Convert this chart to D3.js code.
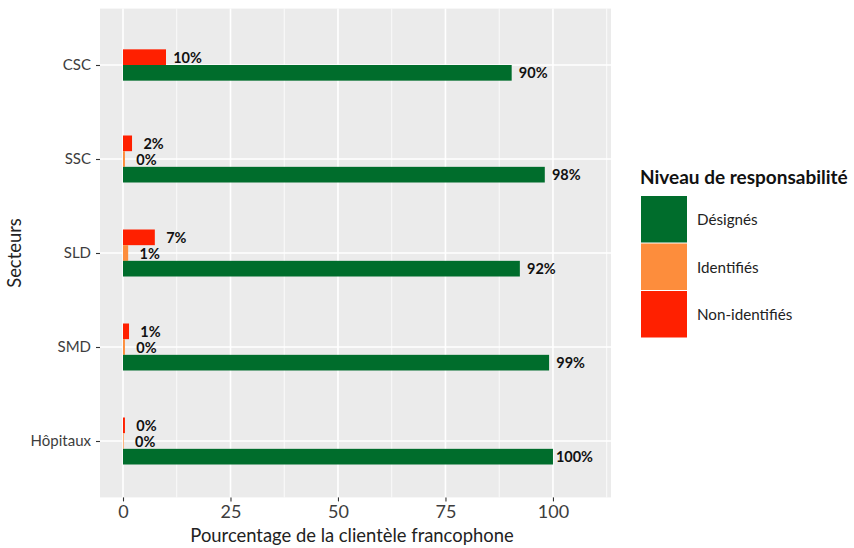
<!DOCTYPE html>
<html><head><meta charset="utf-8">
<script src="https://cdn.jsdelivr.net/npm/d3@7"></script>
<style>body{margin:0;background:#fff}svg{display:block}</style>
</head><body>
<svg id="chart" width="854" height="548"></svg>
<script>
// ---- data ----
const categories = ["CSC", "SSC", "SLD", "SMD", "Hôpitaux"];
const seriesNames = ["Désignés", "Identifiés", "Non-identifiés"];
const seriesColors = ["#006d2c", "#fd8d3c", "#ff2000"];
const designes = [90.4, 98.1, 92.3, 99.1, 100];
const identifies = [null, 0.45, 1.2, 0.45, 0.15];
const nonIdentifies = [10, 2.1, 7.4, 1.4, 0.45];
const xTicks = [0, 25, 50, 75, 100];
const xMinor = [12.5, 37.5, 62.5, 87.5, 112.5];
const xTitle = "Pourcentage de la clientèle francophone";
const yTitle = "Secteurs";
const legendTitle = "Niveau de responsabilité";

const FONT = "Lato, 'Open Sans', sans-serif";
const svg = d3.select("#chart");

const panel = {x0: 100, x1: 611, y0: 8.6, y1: 497.4};
const x = d3.scaleLinear().domain([-5.35, 113.5]).range([panel.x0, panel.x1]);
const y = d3.scalePoint().domain(categories).range([panel.y0, panel.y1]).padding(0.6);
const groupH = y.step() * 0.5;
const barH = groupH / 3;

// panel background
svg.append("rect").attr("x", panel.x0).attr("y", panel.y0)
  .attr("width", panel.x1 - panel.x0).attr("height", panel.y1 - panel.y0).attr("fill", "#ebebeb");

// grid
svg.append("g").selectAll("line").data(xMinor).join("line")
  .attr("x1", d => x(d)).attr("x2", d => x(d)).attr("y1", panel.y0).attr("y2", panel.y1)
  .attr("stroke", "#fff").attr("stroke-width", 0.8);
svg.append("g").selectAll("line").data(xTicks).join("line")
  .attr("x1", d => x(d)).attr("x2", d => x(d)).attr("y1", panel.y0).attr("y2", panel.y1)
  .attr("stroke", "#fff").attr("stroke-width", 1.6);
svg.append("g").selectAll("line").data(categories).join("line")
  .attr("y1", d => y(d)).attr("y2", d => y(d)).attr("x1", panel.x0).attr("x2", panel.x1)
  .attr("stroke", "#fff").attr("stroke-width", 1.6);

// build rows: order top->bottom within a group: Non-identifiés, Identifiés, Désignés
const rows = [];
categories.forEach((c, i) => {
  const present = [];
  if (nonIdentifies[i] != null) present.push({s: 2, v: nonIdentifies[i]});
  if (identifies[i] != null) present.push({s: 1, v: identifies[i]});
  if (designes[i] != null) present.push({s: 0, v: designes[i]});
  const sub = d3.scaleBand().domain(present.map(p => p.s))
    .range([y(c) - barH * present.length / 2, y(c) + barH * present.length / 2]);
  present.forEach(p => rows.push({cat: c, s: p.s, v: p.v, y0: sub(p.s), h: sub.bandwidth()}));
});

svg.append("g").selectAll("rect").data(rows).join("rect")
  .attr("x", x(0)).attr("y", d => d.y0)
  .attr("width", d => x(d.v) - x(0)).attr("height", d => d.h)
  .attr("fill", d => seriesColors[d.s]);

svg.append("g").selectAll("text").data(rows).join("text")
  .attr("x", d => x(d.v + 5)).attr("y", d => d.y0 + d.h / 2)
  .attr("text-anchor", "middle").attr("dominant-baseline", "central")
  .attr("font-family", FONT).attr("font-weight", "bold").attr("font-size", 14.5)
  .attr("fill", "#111")
  .text(d => Math.round(d.v) + "%");

// axes
const yAxis = svg.append("g").attr("transform", `translate(${panel.x0},0)`)
  .call(d3.axisLeft(y).tickSize(4).tickPadding(5));
yAxis.select(".domain").remove();
yAxis.selectAll("line").attr("stroke", "#333").attr("stroke-width", 1.1);
yAxis.selectAll("text").attr("font-family", FONT).attr("font-size", 15).attr("fill", "#3d3d3d");

const xAxis = svg.append("g").attr("transform", `translate(0,${panel.y1})`)
  .call(d3.axisBottom(x).tickValues(xTicks).tickSize(4).tickPadding(4));
xAxis.select(".domain").remove();
xAxis.selectAll("line").attr("stroke", "#333").attr("stroke-width", 1.1);
xAxis.selectAll("text").attr("font-family", FONT).attr("font-size", 18).attr("fill", "#3d3d3d");

svg.append("text").attr("x", 352).attr("y", 542)
  .attr("text-anchor", "middle").attr("font-family", FONT).attr("font-size", 18.4).attr("fill", "#222")
  .text(xTitle);
svg.append("text").attr("transform", `translate(21,${(panel.y0 + panel.y1) / 2}) rotate(-90)`)
  .attr("text-anchor", "middle").attr("font-family", FONT).attr("font-size", 18.4).attr("fill", "#222")
  .text(yTitle);

// legend
const lg = svg.append("g").attr("transform", "translate(640,0)");
lg.append("text").attr("x", 0).attr("y", 184).attr("font-family", FONT).attr("font-weight", "bold")
  .attr("font-size", 19).attr("fill", "#111").text(legendTitle);
const keyY = d3.scaleBand().domain(seriesNames).range([195.5, 338]);
lg.selectAll("rect.k").data(seriesNames).join("rect").attr("class", "k")
  .attr("x", 1).attr("y", d => keyY(d) + 0.5).attr("width", 46).attr("height", keyY.bandwidth() - 1)
  .attr("fill", (d, i) => seriesColors[i]);
lg.selectAll("text.l").data(seriesNames).join("text").attr("class", "l")
  .attr("x", 57).attr("y", d => keyY(d) + keyY.bandwidth() / 2).attr("dominant-baseline", "central")
  .attr("font-family", FONT).attr("font-size", 15.2).attr("fill", "#222").text(d => d);
</script>
</body></html>
